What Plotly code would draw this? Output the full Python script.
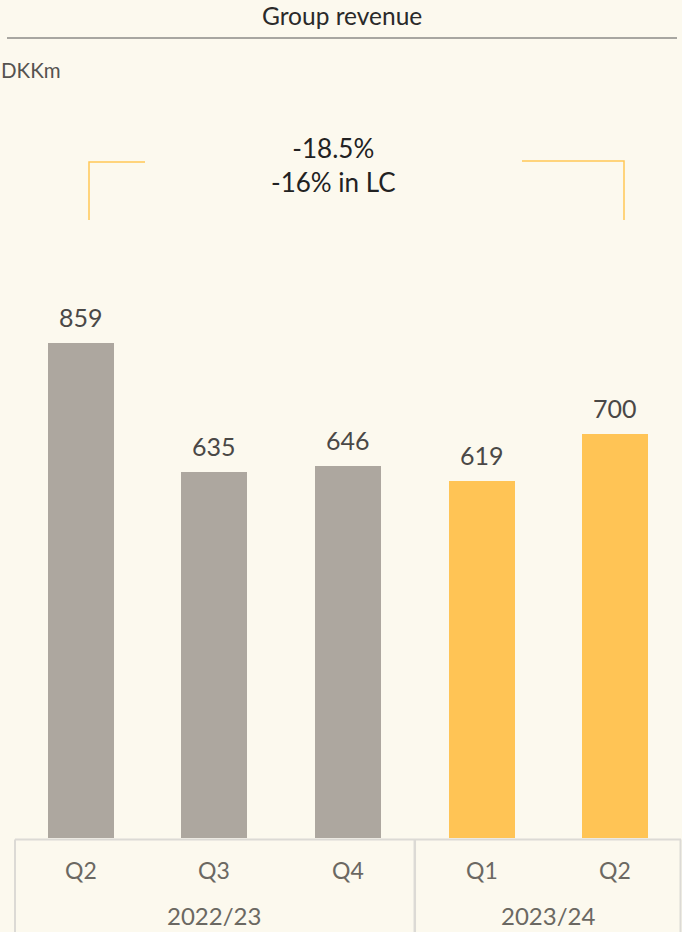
import plotly.graph_objects as go

# ---- data ----
quarters = ["Q2", "Q3", "Q4", "Q1", "Q2"]
years = ["2022/23", "2022/23", "2022/23", "2023/24", "2023/24"]
revenue = [859, 635, 646, 619, 700]
bar_colors = ["#ADA79F", "#ADA79F", "#ADA79F", "#FFC455", "#FFC455"]
fiscal_years = ["2022/23", "2023/24"]
change_text = "-18.5%<br>-16% in LC"
title_text = "Group revenue"
unit_text = "DKKm"

W, H = 682, 932
L, R, T, B = 14, 0, 100, 94
PW, PH = W - L - R, H - T - B
BG = "#FCF9EE"
FONT = "Lato, 'Open Sans', sans-serif"


def px(x):
    return (x - L) / PW


def py(y):
    return (H - B - y) / PH


xs = list(range(len(revenue)))

fig = go.Figure()
fig.add_trace(go.Bar(
    x=xs, y=revenue, marker=dict(color=bar_colors, line=dict(width=0)),
    width=0.495, hoverinfo="skip", showlegend=False,
))

annotations = []
# value labels
for x, v in zip(xs, revenue):
    annotations.append(dict(x=x, y=v, xref="x", yref="y", text=str(v), showarrow=False,
                            yanchor="bottom", yshift=9,
                            font=dict(family=FONT, size=25, color="#4A4846")))
# quarter labels
for x, q in zip(xs, quarters):
    annotations.append(dict(x=x, y=py(870), xref="x", yref="paper", text=q, showarrow=False,
                            yanchor="middle", font=dict(family=FONT, size=23, color="#6B6862")))
# fiscal-year labels centred under their quarters
for fy in fiscal_years:
    idx = [i for i, y in enumerate(years) if y == fy]
    cx = sum(idx) / len(idx)
    annotations.append(dict(x=cx, y=py(915), xref="x", yref="paper", text=fy, showarrow=False,
                            yanchor="middle", font=dict(family=FONT, size=24, color="#6B6862")))
# title, unit, change text
annotations.append(dict(x=px(342), y=py(15), xref="paper", yref="paper", text=title_text,
                        showarrow=False, yanchor="middle", xanchor="center",
                        font=dict(family=FONT, size=24.5, color="#2A2A2A")))
annotations.append(dict(x=px(-1), y=py(70), xref="paper", yref="paper", text=unit_text,
                        showarrow=False, yanchor="middle", xanchor="left",
                        font=dict(family=FONT, size=20.5, color="#555350")))
annotations.append(dict(x=px(333), y=py(165), xref="paper", yref="paper", text=change_text,
                        showarrow=False, yanchor="middle", xanchor="center",
                        font=dict(family=FONT, size=26, color="#222222")))

# fiscal-year boundary between groups
boundary = max(i for i, y in enumerate(years) if y == fiscal_years[0]) + 0.5

grid_c = "#DCDAD5"
brk_c = "#FFC857"
shapes = [
    # title rule
    dict(type="line", xref="paper", yref="paper", x0=px(7), x1=px(677), y0=py(38), y1=py(38),
         line=dict(color="#555555", width=1)),
    # table box
    dict(type="line", xref="paper", yref="paper", x0=px(15), x1=px(681), y0=py(839.5), y1=py(839.5),
         line=dict(color=grid_c, width=2)),
    dict(type="line", xref="paper", yref="paper", x0=px(15), x1=px(15), y0=py(839.5), y1=py(940),
         line=dict(color=grid_c, width=2)),
    dict(type="line", xref="paper", yref="paper", x0=px(680.5), x1=px(680.5), y0=py(839.5), y1=py(940),
         line=dict(color=grid_c, width=2)),
    dict(type="line", xref="x", yref="paper", x0=boundary, x1=boundary, y0=py(839.5), y1=py(940),
         line=dict(color=grid_c, width=2.5)),
    # brackets
    dict(type="path", xref="paper", yref="paper",
         path=f"M {px(145)} {py(162)} L {px(89)} {py(162)} L {px(89)} {py(220)}",
         line=dict(color=brk_c, width=1.5)),
    dict(type="path", xref="paper", yref="paper",
         path=f"M {px(522)} {py(161)} L {px(624)} {py(161)} L {px(624)} {py(220)}",
         line=dict(color=brk_c, width=1.5)),
]

fig.update_layout(
    width=W, height=H, margin=dict(l=L, r=R, t=T, b=B, pad=0),
    paper_bgcolor=BG, plot_bgcolor=BG,
    xaxis=dict(range=[-0.5, 4.5], showticklabels=False, showgrid=False, zeroline=False,
               ticks="", fixedrange=True),
    yaxis=dict(range=[0, 1280], visible=False, showgrid=False, zeroline=False, fixedrange=True),
    annotations=annotations, shapes=shapes, bargap=0,
)

fig.write_html(
    "out.html",
    config={"displayModeBar": False},
    post_script="document.body.style.margin='0';document.body.style.overflow='hidden';"
                "document.body.style.background='" + BG + "';",
)
